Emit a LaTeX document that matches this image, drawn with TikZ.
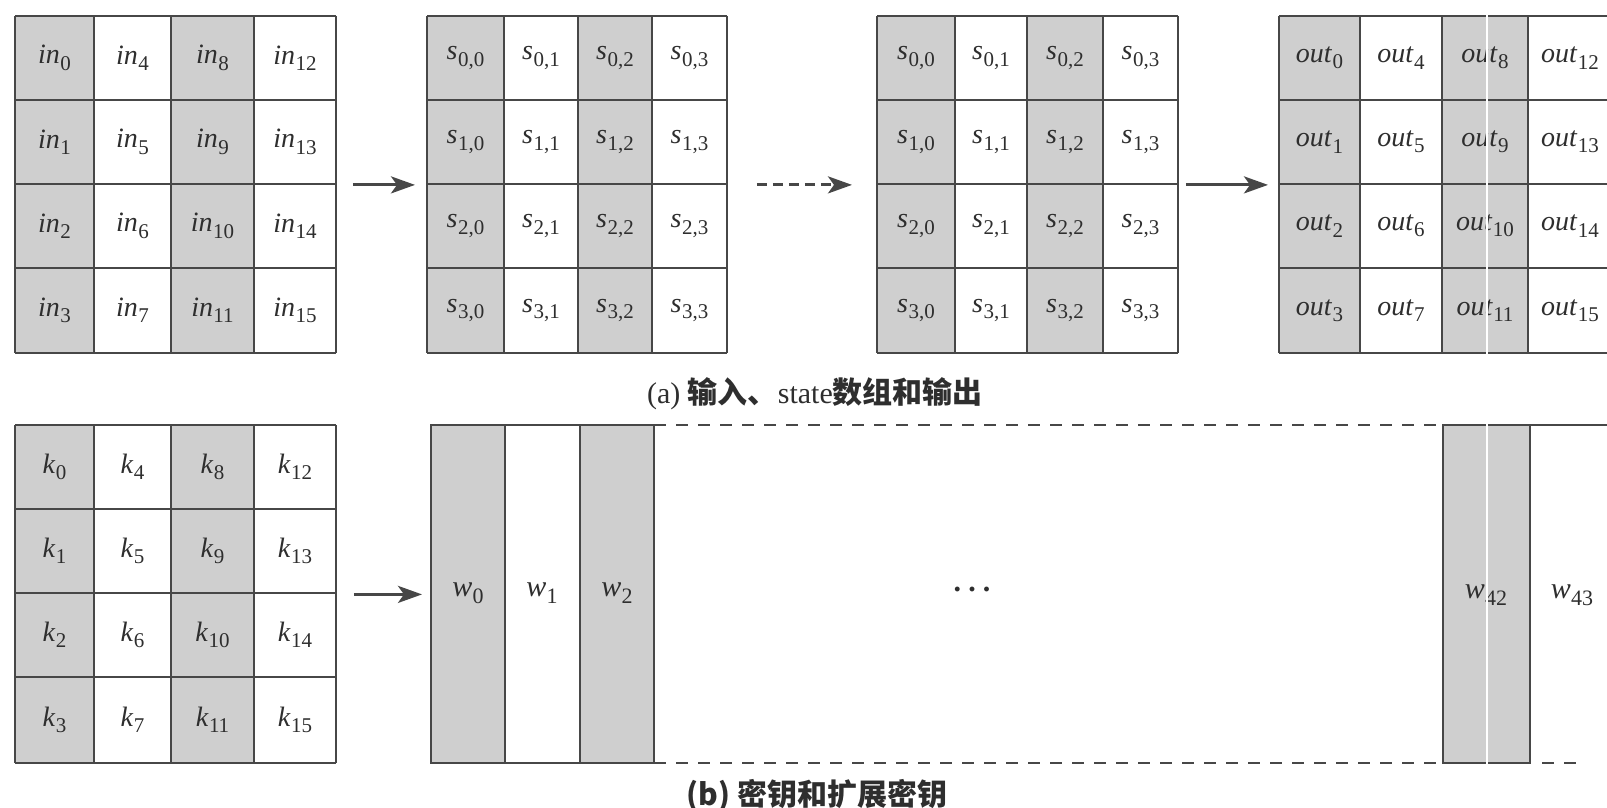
\documentclass[tikz,border=0pt]{standalone}
\usepackage{fontspec}
\setmainfont{Liberation Serif}
\newfontfamily\cjk{Noto Sans CJK SC}
\usetikzlibrary{arrows.meta}
\definecolor{cellgray}{gray}{0.81}
\definecolor{linegray}{gray}{0.28}
\definecolor{txtgray}{gray}{0.18}
\newcommand{\lbl}[2]{\textit{#1}\kern0.2pt\raisebox{-0.5ex}{\fontsize{10.5}{10.5}\selectfont #2}}
\newcommand{\wlbl}[2]{\textit{#1}\kern0.2pt\raisebox{-0.5ex}{\fontsize{11}{11}\selectfont #2}}
\tikzset{
  gridline/.style={draw=linegray, line width=1pt},
  cell/.style={text=txtgray, font=\fontsize{14}{14}\selectfont, inner sep=0pt},
  wcell/.style={text=txtgray, font=\fontsize{15}{15}\selectfont, inner sep=0pt},
  arr/.style={draw=linegray, line width=1.5pt, -{Stealth[length=12pt,width=8.5pt,inset=3pt]}},
  darr/.style={arr, dash pattern=on 5pt off 3pt},
  wdash/.style={draw=linegray, line width=1pt, dash pattern=on 6pt off 5pt},
  box/.style={inner sep=0pt, anchor=north west, draw=none},
  caption/.style={text=txtgray, inner sep=0pt}
}
% #1 node prefix, #2 printed letter, #3 xs, #4 ys, #5 label type (0 = index, 1 = r,c)
\newcommand{\cellgrid}[5]{%
  \pgfmathsetmacro\ya{{#4}[0]}\pgfmathsetmacro\yb{{#4}[4]}%
  \pgfmathsetmacro\xa{{#3}[0]}\pgfmathsetmacro\xb{{#3}[4]}%
  \foreach \c in {0,2}{%
    \pgfmathsetmacro\xl{{#3}[\c]}\pgfmathsetmacro\xr{{#3}[\c+1]}%
    \fill[cellgray] (\xl,\ya) rectangle (\xr,\yb);
  }
  \foreach \i in {0,...,4}{%
    \pgfmathsetmacro\xx{{#3}[\i]}\pgfmathsetmacro\yy{{#4}[\i]}%
    \draw[gridline] (\xx,\ya) -- (\xx,\yb);
    \draw[gridline] (\xa,\yy) -- (\xb,\yy);
  }
  \foreach \c in {0,...,3}{%
    \foreach \r in {0,...,3}{%
      \pgfmathsetmacro\xl{{#3}[\c]}\pgfmathsetmacro\xr{{#3}[\c+1]}%
      \pgfmathsetmacro\yt{{#4}[\r]}\pgfmathsetmacro\ybb{{#4}[\r+1]}%
      \pgfmathsetmacro\cx{(\xl+\xr)/2}%
      \pgfmathsetmacro\cy{(\yt+\ybb)/2}%
      \pgfmathtruncatemacro\idx{4*\c+\r}%
      \ifnum#5=0
        \node[cell] (#1\idx) at (\cx,\cy) {\lbl{#2}{\idx}};
      \else
        \node[cell] (#1\r\c) at (\cx,\cy) {\lbl{#2}{\r,\c}};
      \fi
    }
  }
}
\begin{document}
\begin{tikzpicture}[x=0.5pt,y=-0.5pt]
\useasboundingbox (0,0) rectangle (1607,808);
\clip (0,0) rectangle (1607,808);

% ---------- (a) ----------
\cellgrid{in}{in}{15,94,171,254,336}{16,100,184,268,353}{0}
\cellgrid{sa}{s}{427,504,578,652,727}{16,100,184,268,353}{1}
\cellgrid{sb}{s}{877,955,1027,1103,1178}{16,100,184,268,353}{1}
\cellgrid{out}{out}{1279,1360,1442,1528,1612}{16,100,184,268,353}{0}

% boxes used as arrow ends
\node[box, minimum width=160.5pt, minimum height=168.5pt] (gin)  at (15,16) {};
\node[box, minimum width=150pt,   minimum height=168.5pt] (gs)   at (427,16) {};
\node[box, minimum width=150.5pt, minimum height=168.5pt] (gs2)  at (877,16) {};
\node[box, minimum width=166.5pt, minimum height=168.5pt] (gout) at (1279,16) {};

\draw[arr]  ([xshift=8pt]gin.east) -- ([xshift=-6pt]gs.west);
\draw[darr] ([xshift=14.5pt]gs.east) -- ([xshift=-12.5pt]gs2.west);
\draw[arr]  ([xshift=3.5pt]gs2.east) -- ([xshift=-5.5pt]gout.west);

% scan artefact line
\draw[white, line width=1.1pt] (1487,14) -- (1487,356);

\node[caption] (capa) at (815,394) {\fontsize{15}{15}\selectfont (a) {\cjk\bfseries 输入、}state{\cjk\bfseries 数组和输出}};

% ---------- (b) ----------
\cellgrid{k}{k}{15,94,171,254,336}{425,509,593,677,763}{0}

% expanded key columns
\fill[cellgray] (431,425) rectangle (505,763);
\fill[cellgray] (580,425) rectangle (654,763);
\fill[cellgray] (1443,425) rectangle (1530,763);
\draw[gridline] (431,425) rectangle (654,763);
\draw[gridline] (505,425) -- (505,763);
\draw[gridline] (580,425) -- (580,763);
\draw[gridline] (1443,425) rectangle (1530,763);
\draw[gridline] (1530,425) -- (1607,425);
\draw[wdash] (654,425) -- (1443,425);
\draw[wdash] (654,763) -- (1443,763);
\draw[wdash] (1542,763) -- (1578,763);

\node[wcell] (w0)  at (468,593)  {\wlbl{w}{0}};
\node[wcell] (w1)  at (542,593)  {\wlbl{w}{1}};
\node[wcell] (w2)  at (617,593)  {\wlbl{w}{2}};
\node[wcell] (w42) at (1486,595) {\wlbl{w}{42}};
\node[wcell] (w43) at (1572,595) {\wlbl{w}{43}};
\node[text=txtgray, inner sep=0pt, font=\bfseries\fontsize{15}{15}\selectfont] (dots) at (972,589) {.\hspace{3.6pt}.\hspace{3.6pt}.};

\node[box, minimum width=160.5pt, minimum height=169pt] (gk) at (15,425) {};
\node[box, minimum width=111.5pt, minimum height=169pt] (gw) at (431,425) {};
\draw[arr] ([xshift=8.5pt]gk.east) -- ([xshift=-4.5pt]gw.west);

\draw[white, line width=1.1pt] (1487,423) -- (1487,766);

\node[caption] (capb) at (817,796) {\cjk\bfseries\fontsize{15}{15}\selectfont (b) 密钥和扩展密钥};
\end{tikzpicture}
\end{document}
